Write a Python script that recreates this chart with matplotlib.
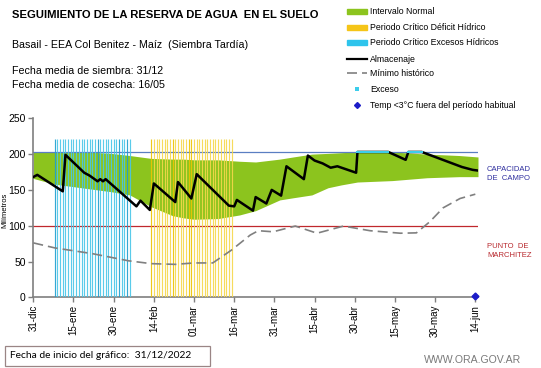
import matplotlib
matplotlib.use("Agg")
import matplotlib.pyplot as plt
from matplotlib.patches import Rectangle
from matplotlib.lines import Line2D

plt.rcParams['font.family'] = ['Liberation Sans', 'DejaVu Sans']

# ---------------- data (day 0 = 31-dic-2022) ----------------
tick_days = [0, 15, 30, 45, 60, 75, 90, 105, 120, 135, 150, 165]
tick_labels = ["31-dic", "15-ene", "30-ene", "14-feb", "01-mar", "16-mar",
               "31-mar", "15-abr", "30-abr", "15-may", "30-may", "14-jun"]

band_days = [0, 8, 20, 29, 36, 44, 52, 56, 60, 69, 77, 83, 92, 97, 104, 110,
             115, 121, 134, 147, 159, 166]
band_upper = [203, 203, 203, 201, 198, 194, 193, 193, 192, 192, 190, 189, 193,
              196, 200, 201, 202, 203, 203, 200, 198, 196]
band_lower = [166, 158, 152, 147.5, 143, 126.5, 114, 111, 109, 110, 115, 121,
              136, 139, 143, 153, 157, 161, 163, 167, 168.5, 168.5]

almac_days = [0, 1.5, 11, 12, 19, 21, 24, 25, 26, 27, 38.5, 40, 43.5, 45, 53,
              54, 59, 61, 73, 75, 76, 82, 83, 87, 89, 92.5, 94.5, 101, 102.5,
              105, 108, 111, 113.5, 120.5, 121, 132.5, 139, 140, 145, 150,
              155, 160, 164, 166]
almac_vals = [168, 171, 148, 199, 174, 170, 162, 165, 162, 165, 127, 135, 122,
              159, 133, 161, 138, 172, 128, 127, 136, 121, 140, 131, 150, 142,
              183, 165, 198, 191, 187, 181, 183, 174, 203, 203, 192, 203, 203,
              196, 189, 182, 178, 177]

minhist_days = [0, 8, 22, 35.5, 44, 53, 60, 67, 74, 81, 84, 89.5, 97.8, 105.9,
                115.8, 125.7, 137, 143, 148, 153, 159.3, 165]
minhist_vals = [76, 69, 61, 51, 47, 46, 48, 48, 66, 87, 93, 91.5, 99.5, 89.5,
                99.5, 93, 89.5, 90, 105.5, 125, 138, 144]

exceso_days = [121, 121.5, 122, 122.5, 123, 123.5, 124, 124.5, 125, 125.5,
               126, 126.5, 127, 127.5, 128, 128.5, 129, 129.5, 130, 130.5,
               131, 131.5, 132, 132.5,
               140, 140.5, 141, 141.5, 142, 142.5, 143, 143.5, 144, 144.5, 145]
exceso_vals = [203.5] * len(exceso_days)

exceso_crit_days = list(range(8, 37))      # Periodo crítico excesos hídricos
deficit_crit_days = list(range(44, 75))    # Periodo crítico déficit hídrico
crit_top = 221

capacidad_campo = 203
punto_marchitez = 100

frost_days = [165]
frost_vals = [2]

legend_labels = ["Intervalo Normal", "Periodo Crítico Déficit Hídrico",
                 "Periodo Crítico Excesos Hídricos", "Almacenaje",
                 "Mínimo histórico", "Exceso",
                 "Temp <3°C fuera del período habitual"]

# ---------------- figure ----------------
W, H = 541, 368
fig = plt.figure(figsize=(W / 100, H / 100), dpi=100)


def fx(x):
    return x / W


def fy(y):
    return 1 - y / H


ax_l, ax_r, ax_t, ax_b = 33.3, 478.0, 118.3, 297.3
ax = fig.add_axes([fx(ax_l), fy(ax_b), fx(ax_r - ax_l), (ax_b - ax_t) / H])
ax.set_xlim(0, 166)
ax.set_ylim(0, 250)

GREEN = '#8CC41E'
ax.fill_between(band_days, band_lower, band_upper, color=GREEN, lw=0, zorder=1)

ax.axhline(capacidad_campo, color='#5A7EC2', lw=0.9, zorder=2)
ax.axhline(punto_marchitez, color='#C0282D', lw=0.9, zorder=2)

dark_blue_days = {8, 24, 32, 35}
for d in exceso_crit_days:
    c = '#1E9FD0' if d in dark_blue_days else '#48C6E8'
    ax.vlines(d, 0, crit_top, color=c, lw=0.85, alpha=0.9, zorder=3)
dark_yel_days = {44, 52, 58, 59}
for d in deficit_crit_days:
    c = '#EDC400' if d in dark_yel_days else '#F5D84A'
    ax.vlines(d, 0, crit_top, color=c, lw=0.85, alpha=0.9, zorder=3)

ax.plot(minhist_days, minhist_vals, color='#808080', lw=1.2,
        dashes=(6, 3), zorder=4)
ax.plot(almac_days, almac_vals, color='black', lw=1.8, zorder=5)
ax.plot(exceso_days, exceso_vals, ls='none', marker='s', ms=1.5, mew=0,
        color='#3CCDEB', zorder=6)
ax.plot(frost_days, frost_vals, ls='none', marker='D', ms=3.5,
        color='#1C1CC8', zorder=7, clip_on=False)

for s in ['top', 'right']:
    ax.spines[s].set_visible(False)
for s in ['left', 'bottom']:
    ax.spines[s].set_color('#7F7F7F')
    ax.spines[s].set_linewidth(1.2)
ax.set_xticks(tick_days)
ax.set_xticklabels(tick_labels, rotation=90, fontsize=7)
ax.set_yticks([0, 50, 100, 150, 200, 250])
ax.tick_params(axis='both', colors='#7F7F7F', labelcolor='black', width=1,
               length=3.5, direction='out')
ax.tick_params(axis='y', labelsize=7.5, pad=2)
ax.tick_params(axis='x', pad=2)

fig.text(fx(4.5), fy(210), "Milímetros", rotation=90, fontsize=5.5,
         ha='center', va='center')

# right labels
fig.text(fx(487), fy(170), "CAPACIDAD", fontsize=5.5, color='#2E2E9E',
         va='center')
fig.text(fx(487), fy(179), "DE  CAMPO", fontsize=5.5, color='#2E2E9E',
         va='center')
fig.text(fx(487), fy(246.5), "PUNTO  DE", fontsize=5.5, color='#B8282D',
         va='center')
fig.text(fx(487), fy(255.5), "MARCHITEZ", fontsize=5.5, color='#B8282D',
         va='center')

# header texts
fig.text(fx(12), fy(15), "SEGUIMIENTO DE LA RESERVA DE AGUA  EN EL SUELO",
         fontsize=8.1, fontweight='bold', va='center')
fig.text(fx(12), fy(45), "Basail - EEA Col Benitez - Maíz  (Siembra Tardía)",
         fontsize=7.7, va='center')
fig.text(fx(12), fy(71.5), "Fecha media de siembra: 31/12", fontsize=7.7,
         va='center')
fig.text(fx(12), fy(84.5), "Fecha media de cosecha: 16/05", fontsize=7.7,
         va='center')

# legend (manual)
leg_y = [11.7, 27.3, 42.7, 59.3, 73.3, 89.3, 105]
px0, px1, tx = 347, 367, 370
patch_cols = [GREEN, '#F5C518', '#2EC4EC']
for i in range(3):
    fig.patches.append(Rectangle((fx(px0), fy(leg_y[i] + 2.5)),
                                 fx(px1 - px0), 5 / H, color=patch_cols[i],
                                 transform=fig.transFigure))
fig.lines.append(Line2D([fx(px0), fx(px1)], [fy(leg_y[3])] * 2,
                        color='black', lw=1.6, transform=fig.transFigure))
fig.lines.append(Line2D([fx(px0), fx(px1)], [fy(leg_y[4])] * 2,
                        color='#808080', lw=1.2, dashes=(6, 3),
                        transform=fig.transFigure))
fig.lines.append(Line2D([fx(357)], [fy(leg_y[5])], ls='none', marker='s',
                        ms=2.2, mew=0, color='#3CCDEB',
                        transform=fig.transFigure))
fig.lines.append(Line2D([fx(357)], [fy(leg_y[6])], ls='none', marker='D',
                        ms=3, color='#1C1CC8', transform=fig.transFigure))
for i, lab in enumerate(legend_labels):
    fig.text(fx(tx), fy(leg_y[i]), lab, fontsize=6.3, va='center')

# footer
fig.patches.append(Rectangle((fx(5), fy(366)), fx(205), 20 / H,
                             facecolor='white', edgecolor='#9A8585', lw=0.9,
                             transform=fig.transFigure))
fig.text(fx(10), fy(356), "Fecha de inicio del gráfico:  31/12/2022",
         fontsize=7.4, va='center', family=['Lato', 'DejaVu Sans'])
fig.text(fx(424), fy(360), "WWW.ORA.GOV.AR", fontsize=7.6, color='#7A7A7A',
         va='center')

fig.savefig("out.png", dpi=100)
